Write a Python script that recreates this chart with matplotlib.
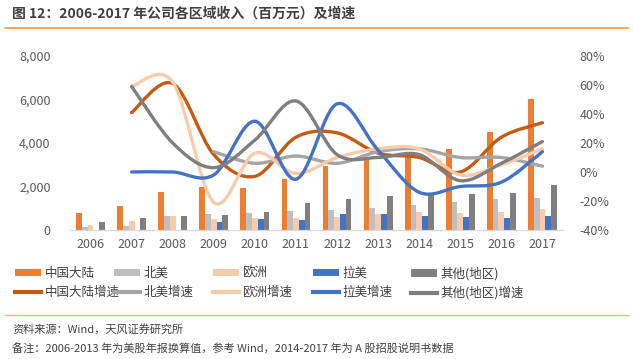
import numpy as np
import matplotlib
matplotlib.use("Agg")
import matplotlib.pyplot as plt
from matplotlib.path import Path
from matplotlib.patches import PathPatch, Patch
from matplotlib.lines import Line2D
from matplotlib.ticker import FuncFormatter

plt.rcParams['font.family'] = ['Noto Sans CJK SC', 'DejaVu Sans']

years = ['2006', '2007', '2008', '2009', '2010', '2011', '2012', '2013', '2014', '2015', '2016', '2017']

# revenue, million yuan
china = [780, 1100, 1750, 1980, 1930, 2340, 2940, 3350, 3450, 3720, 4500, 6020]
north_america = [130, 170, 650, 740, 780, 870, 920, 1010, 1150, 1270, 1420, 1480]
europe = [250, 400, 630, 500, 560, 560, 610, 740, 820, 800, 850, 970]
latam = [0, 0, 0, 350, 490, 470, 720, 740, 640, 580, 560, 630]
other = [350, 560, 650, 680, 820, 1250, 1420, 1560, 1680, 1650, 1710, 2050]

# growth, %
china_g = [None, 41, 61, 12, -3, 24, 27, 13, 10, 0, 24, 34]
north_america_g = [None, None, None, 14, 6, 11, 6, 14, 16, 10, 10, 4]
europe_g = [None, 59, 62, -21, 13, -1, 10, 16, 16, -2, 5, 16]
latam_g = [None, 0, 0, -2, 35, -5, 47, 15, -14, -10, -7, 14]
other_g = [None, 59, 20, 3, 22, 49, 12, 10, 12, -6, 6, 21]

bar_names = ['中国大陆', '北美', '欧洲', '拉美', '其他(地区)']
line_names = ['中国大陆增速', '北美增速', '欧洲增速', '拉美增速', '其他(地区)增速']
bar_colors = ['#ED7D31', '#BFBFBF', '#F8CBAD', '#4472C4', '#7F7F7F']
line_colors = ['#C55A11', '#A5A5A5', '#F8CBAD', '#4472C4', '#7F7F7F']


def smooth_path(xs, ys):
    # excel-like smoothed line: cubic bezier segments through the points
    pts = [(x, y) for x, y in zip(xs, ys) if y is not None]
    pts = np.array(pts, dtype=float)
    n = len(pts)
    verts = [tuple(pts[0])]
    codes = [Path.MOVETO]
    for i in range(n - 1):
        p0 = pts[i - 1] if i > 0 else pts[i]
        p1 = pts[i]
        p2 = pts[i + 1]
        p3 = pts[i + 2] if i + 2 < n else pts[i + 1]
        c1 = p1 + (p2 - p0) / 6.0
        c2 = p2 - (p3 - p1) / 6.0
        verts += [tuple(c1), tuple(c2), tuple(p2)]
        codes += [Path.CURVE4] * 3
    return Path(verts, codes)


fig = plt.figure(figsize=(6.33, 3.59), dpi=100)
ax = fig.add_axes([70 / 633, 1 - 230 / 359, 493 / 633, 174 / 359])
ax2 = ax.twinx()

x = np.arange(len(years))
w = 0.14
series = [china, north_america, europe, latam, other]
for i, s in enumerate(series):
    ax.bar(x + (i - 2) * w, s, width=w, color=bar_colors[i], zorder=2)

ax.set_xlim(-0.5, len(years) - 0.5)
ax.set_ylim(0, 8000)
ax.set_yticks(range(0, 8001, 2000))
ax.yaxis.set_major_formatter(FuncFormatter(lambda v, p: '{:,.0f}'.format(v)))
ax.set_xticks(x)
ax.set_xticklabels(years)

growth = [china_g, north_america_g, europe_g, latam_g, other_g]
for i, g in enumerate(growth):
    pp = PathPatch(smooth_path(x, g), fill=False, edgecolor=line_colors[i],
                   lw=2.4, capstyle='round', joinstyle='round')
    ax2.add_patch(pp)
ax2.set_ylim(-40, 80)
ax2.set_yticks(range(-40, 81, 20))
ax2.yaxis.set_major_formatter(FuncFormatter(lambda v, p: '%d%%' % v))

for a in (ax, ax2):
    for sp in ['top', 'left', 'right']:
        a.spines[sp].set_visible(False)
    a.spines['bottom'].set_color('#D9D9D9')
    a.tick_params(length=0, labelsize=9, labelcolor='#595959')
ax.tick_params(axis='y', pad=14)
ax2.tick_params(axis='y', pad=12)
ax.tick_params(axis='x', pad=6)

# legend, one column at a time so spacing is even
col_x = [15, 114, 213, 313, 411]
for i in range(5):
    h = [Patch(facecolor=bar_colors[i], edgecolor='none'),
         Line2D([], [], color=line_colors[i], lw=3)]
    leg = fig.legend(handles=h, labels=[bar_names[i], line_names[i]],
                     loc='upper left', bbox_to_anchor=(col_x[i] / 633, 1 - 267 / 359),
                     frameon=False, fontsize=9, handlelength=2.1, handleheight=0.55,
                     handletextpad=0.25, labelspacing=0.45, borderpad=0, borderaxespad=0)
    for t in leg.get_texts():
        t.set_color('#404040')

fig.text(12 / 633, 1 - 14 / 359, '图 12：2006-2017 年公司各区域收入（百万元）及增速',
         fontsize=10, fontweight='bold', color='#404040', va='center', ha='left')
fig.add_artist(Line2D([5 / 633, 628 / 633], [1 - 28 / 359] * 2, color='#F39A3D', lw=1.2))
fig.add_artist(Line2D([5 / 633, 628 / 633], [1 - 315 / 359] * 2, color='#F4B183', lw=1.0))
fig.text(12 / 633, 1 - 329 / 359, '资料来源：Wind，天风证券研究所',
         fontsize=8, color='#404040', va='center', ha='left')
fig.text(12 / 633, 1 - 348 / 359,
         '备注：2006-2013 年为美股年报换算值，参考 Wind，2014-2017 年为 A 股招股说明书数据',
         fontsize=8, color='#404040', va='center', ha='left')

fig.savefig('out.png', dpi=100)
